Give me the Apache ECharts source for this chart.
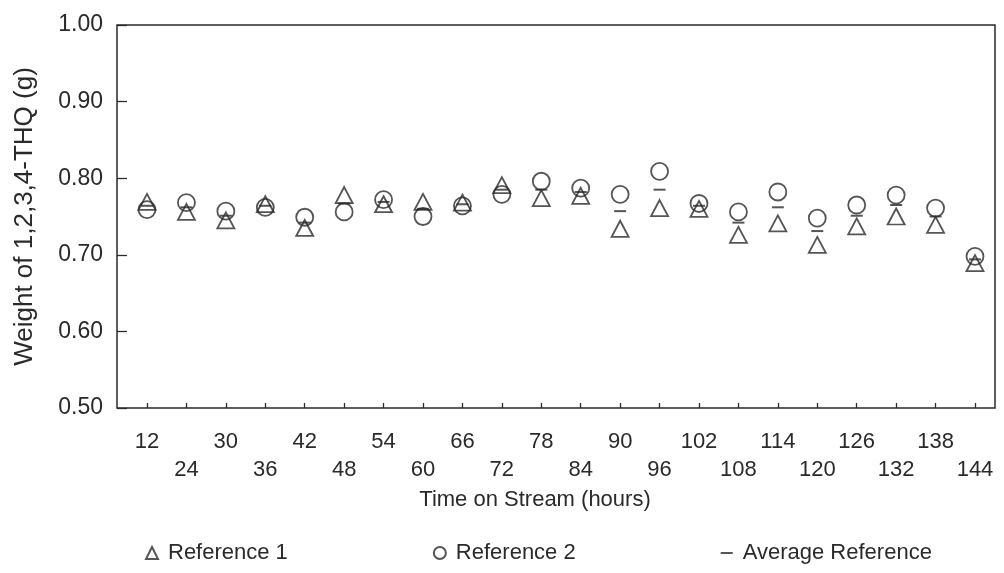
<!DOCTYPE html>
<html>
<head>
<meta charset="utf-8">
<script src="https://cdn.jsdelivr.net/npm/echarts@6/dist/echarts.min.js"></script>
<style>html,body{margin:0;padding:0;background:#fff}#c{width:1004px;height:573px}</style>
</head>
<body>
<div id="c"></div>
<script>
var hours = ['12','24','30','36','42','48','54','60','66','72','78','84','90','96','102','108','114','120','126','132','138','144'];
var reference1 = [0.769,0.756,0.745,0.766,0.735,0.778,0.766,0.769,0.768,0.791,0.774,0.777,0.734,0.761,0.760,0.726,0.741,0.713,0.737,0.750,0.739,0.689];
var reference2 = [0.759,0.768,0.757,0.762,0.749,0.756,0.772,0.750,0.764,0.779,0.796,0.787,0.779,0.809,0.767,0.756,0.782,0.748,0.765,0.778,0.761,0.698];
var averageRef = [0.764,0.762,0.751,0.764,0.742,0.767,0.769,0.760,0.766,0.785,0.785,0.782,0.757,0.785,0.764,0.742,0.762,0.731,0.751,0.765,0.750,0.694];
var yMin = 0.5, yMax = 1.0, yStep = 0.1;

var ink = '#2a2a2a';
var font = 'Liberation Sans, Arial, sans-serif';
var chart = echarts.init(document.getElementById('c'), null, {renderer: 'canvas'});
chart.setOption({
  backgroundColor: '#ffffff',
  animation: false,
  grid: [
    {left: 117, right: 9, top: 25, bottom: 165, show: true, borderColor: ink, borderWidth: 1.5, backgroundColor: 'transparent'},
    {left: 147, right: 29, top: 25, bottom: 165}
  ],
  xAxis: [
    {gridIndex: 0, type: 'value', show: false, min: 0, max: 1},
    {gridIndex: 1, type: 'category', data: hours, boundaryGap: false,
     name: 'Time on Stream (hours)', nameLocation: 'middle', nameGap: 78,
     nameTextStyle: {fontFamily: font, fontSize: 22, color: ink, padding: [0, 52, 0, 0]},
     axisLine: {show: false},
     axisTick: {show: true, inside: true, length: 5, lineStyle: {color: ink, width: 1.3}},
     axisLabel: {interval: 0, margin: 20, fontFamily: font, fontSize: 22, color: ink, lineHeight: 28,
       formatter: function (v, i) { return i % 2 ? '\n' + v : v; }},
     splitLine: {show: false}}
  ],
  yAxis: [
    {gridIndex: 0, type: 'value', min: yMin, max: yMax, interval: yStep,
     name: 'Weight of 1,2,3,4-THQ (g)', nameLocation: 'middle', nameGap: 79,
     nameTextStyle: {fontFamily: font, fontSize: 26, color: ink},
     axisLine: {show: false},
     axisTick: {show: true, inside: true, length: 10, lineStyle: {color: ink, width: 1.3}},
     axisLabel: {margin: 14, fontFamily: font, fontSize: 23, color: ink,
       formatter: function (v) { return v.toFixed(2); }},
     splitLine: {show: false}},
    {gridIndex: 1, type: 'value', min: yMin, max: yMax, show: false, splitLine: {show: false}}
  ],
  legend: {
    left: 140, top: 537, itemGap: 145, itemWidth: 12, itemHeight: 12,
    textStyle: {fontFamily: font, fontSize: 22, color: ink, padding: [0, 0, 0, 5]},
    data: [
      {name: 'Reference 1', icon: 'triangle'},
      {name: 'Reference 2', icon: 'circle'},
      {name: 'Average Reference', icon: 'path://M0,5H12V7H0Z'}
    ]
  },
  series: [
    {name: 'Reference 1', type: 'scatter', xAxisIndex: 1, yAxisIndex: 1, data: reference1,
     symbol: 'triangle', symbolSize: [17, 16],
     itemStyle: {color: 'rgba(0,0,0,0)', borderColor: ink, borderWidth: 1.8}},
    {name: 'Reference 2', type: 'scatter', xAxisIndex: 1, yAxisIndex: 1, data: reference2,
     symbol: 'circle', symbolSize: 17,
     itemStyle: {color: 'rgba(0,0,0,0)', borderColor: ink, borderWidth: 1.8}},
    {name: 'Average Reference', type: 'scatter', xAxisIndex: 1, yAxisIndex: 1, data: averageRef,
     symbol: 'rect', symbolSize: [12, 2],
     itemStyle: {color: ink}}
  ]
});
</script>
</body>
</html>
